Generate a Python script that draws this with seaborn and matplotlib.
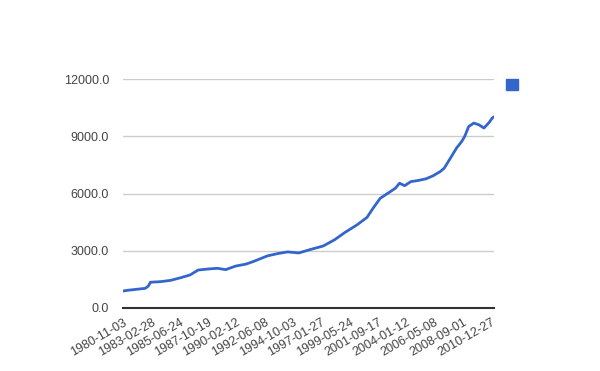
import numpy as np
import pandas as pd
import matplotlib
matplotlib.use("Agg")
import matplotlib.pyplot as plt
import matplotlib.dates as mdates
from matplotlib.patches import Patch
import seaborn as sns

sns.set_style("white")
plt.rcParams['font.family'] = ['Liberation Sans', 'DejaVu Sans']

# values (approximate)
dates = ["1980-11-03", "1981-04-01", "1982-09-01", "1982-12-01", "1983-02-01",
         "1983-12-01", "1984-10-01", "1985-08-01", "1986-05-01", "1987-01-01",
         "1987-11-01", "1988-08-01", "1989-04-01", "1990-02-01", "1990-12-01",
         "1991-07-01", "1992-09-01", "1993-07-01", "1994-05-01", "1995-04-01",
         "1996-03-01", "1997-04-01", "1998-03-01", "1999-01-01", "2000-01-01",
         "2000-11-01", "2001-05-01", "2001-12-01", "2002-10-01", "2003-03-01",
         "2003-07-01", "2003-12-01", "2004-06-01", "2005-02-01", "2005-09-01",
         "2006-04-01", "2006-11-01", "2007-03-01", "2007-10-01", "2008-03-01",
         "2008-08-01", "2008-11-01", "2009-03-01", "2009-08-01", "2010-01-01",
         "2010-06-01", "2010-11-01", "2011-02-01", "2011-03-28"]
values = [890, 930, 1030, 1150, 1350,
          1380, 1450, 1590, 1730, 1990,
          2045, 2080, 2010, 2200, 2300,
          2430, 2730, 2850, 2940, 2885,
          3060, 3250, 3570, 3950, 4350,
          4750, 5230, 5750, 6100, 6280,
          6540, 6410, 6620, 6690, 6770,
          6930, 7150, 7330, 7940, 8380,
          8720, 8990, 9510, 9690, 9600,
          9430, 9720, 9950, 10020]

tick_labels = ["1980-11-03", "1983-02-28", "1985-06-24", "1987-10-19", "1990-02-12",
               "1992-06-08", "1994-10-03", "1997-01-27", "1999-05-24", "2001-09-17",
               "2004-01-12", "2006-05-08", "2008-09-01", "2010-12-27"]
y_ticks = [0, 3000, 6000, 9000, 12000]

df = pd.DataFrame({"date": pd.to_datetime(dates), "value": values})

fig = plt.figure(figsize=(6, 3.71), dpi=100)
ax = fig.add_axes([123/600, 1 - 308/371, 371/600, 229/371])

sns.lineplot(data=df, x="date", y="value", ax=ax, color="#3366cc", linewidth=2)

ax.set_xlim(pd.Timestamp("1980-11-03"), pd.Timestamp("2011-03-28"))
ax.set_ylim(0, 12000)
ax.set_yticks(y_ticks)
ax.set_yticklabels([f"{v:.1f}" for v in y_ticks])
ax.set_xticks(pd.to_datetime(tick_labels))
ax.set_xticklabels(tick_labels, rotation=30, ha="right", rotation_mode="anchor")
ax.tick_params(axis="both", length=0, labelsize=9, labelcolor="#444444")
ax.tick_params(axis="y", pad=10)
ax.tick_params(axis="x", pad=6)
ax.set_xlabel("")
ax.set_ylabel("")

ax.grid(axis="y", color="#cccccc", linewidth=1)
for s in ["top", "right", "left"]:
    ax.spines[s].set_visible(False)
ax.spines["bottom"].set_color("#333333")
ax.spines["bottom"].set_linewidth(1.5)
ax.set_axisbelow(True)

ax.legend(handles=[Patch(color="#3366cc")], labels=[""], frameon=False,
          loc="upper left", bbox_to_anchor=(506/600, 1 - 79/371),
          bbox_transform=fig.transFigure, borderpad=0, borderaxespad=0,
          handlelength=0.95, handleheight=0.95, handletextpad=0, fontsize=9)

fig.savefig("out.png", dpi=100)
